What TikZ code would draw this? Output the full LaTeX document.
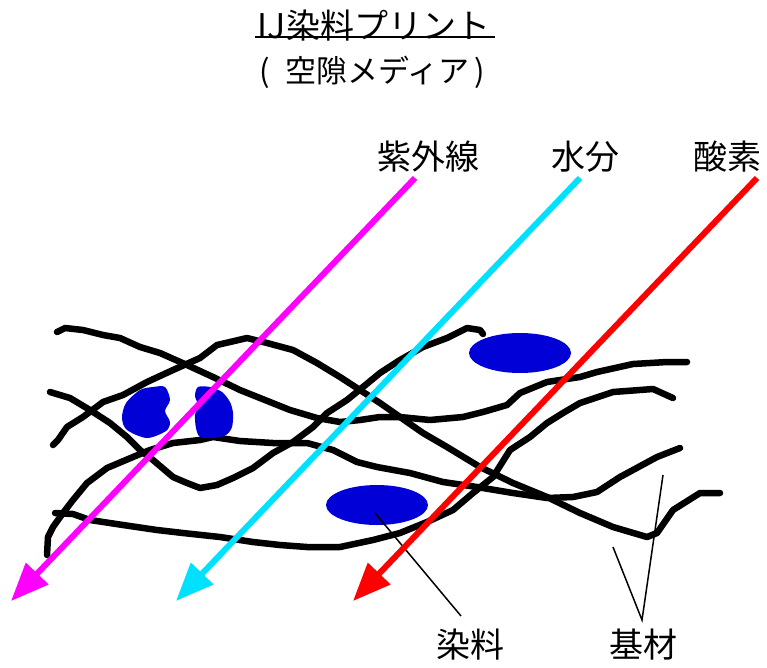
\documentclass[tikz,border=0pt]{standalone}
\usepackage{fontspec}
\setmainfont{Noto Sans CJK JP}
\usetikzlibrary{arrows.meta}
\definecolor{uvpink}{RGB}{255,0,255}
\definecolor{watercyan}{RGB}{0,225,255}
\definecolor{dyeblue}{RGB}{0,0,215}
\tikzset{
  fibre/.style={line width=6.5pt, line join=round, line cap=round},
  ray/.style={line width=6pt, -{Triangle[length=38pt,width=30pt]}},
  lead/.style={line width=1.5pt},
  lbl/.style={font=\fontsize{34}{38}\selectfont, inner sep=0pt},
  ttl/.style={font=\fontsize{34}{40}\selectfont, inner sep=0pt},
}

\begin{document}
\begin{tikzpicture}[x=1pt,y=-1pt]
\useasboundingbox (0,0) rectangle (767,667);

\node[ttl] (head) at (374,26) {IJ染料プリント};
\node[ttl,font=\fontsize{31}{36}\selectfont] (sub) at (372,72) {(\enspace 空隙メディア\,)};
\draw[line width=1.5pt] (255,37) -- (495,37);

\draw[fibre] (57,332) -- (65,328) -- (83,330) -- (103,335) -- (120,338) -- (140,347) -- (160,353) -- (187,365) -- (213,377) -- (240,390) -- (260,398) -- (290,410) -- (317,418) -- (340,422) -- (360,420) -- (380,417) -- (400,417) -- (430,420) -- (463,417) -- (483,412) -- (507,405) -- (520,393) -- (547,382) -- (580,377) -- (597,372) -- (633,364) -- (667,362) -- (687,362);
\draw[fibre] (53,445) -- (58,440) -- (67,427) -- (83,417) -- (103,402) -- (123,395) -- (147,382) -- (173,370) -- (200,358) -- (217,345) -- (230,342) -- (247,338) -- (267,343) -- (293,350) -- (317,363) -- (340,377) -- (360,390) -- (380,403) -- (400,417) -- (423,433) -- (447,447) -- (480,467) -- (513,483) -- (547,497) -- (580,513) -- (613,527) -- (647,537) -- (657,533) -- (673,510) -- (700,493) -- (720,493);
\draw[fibre] (50,392) -- (70,398) -- (90,410) -- (110,423) -- (127,437) -- (140,450) -- (153,460) -- (173,477) -- (187,483) -- (200,488) -- (217,485) -- (233,478) -- (253,468) -- (273,453) -- (293,442) -- (313,427) -- (327,413) -- (347,400) -- (363,387) -- (380,373) -- (400,360) -- (423,347) -- (447,338) -- (467,328) -- (480,330) -- (483,334);
\draw[fibre] (47,555) -- (48,537) -- (53,527) -- (63,513) -- (73,500) -- (87,483) -- (107,468) -- (133,457) -- (150,450) -- (173,443) -- (200,440) -- (213,437) -- (240,441) -- (273,443) -- (307,443) -- (333,450) -- (357,462) -- (377,467) -- (410,473) -- (443,482) -- (477,487) -- (513,493) -- (547,498) -- (573,497) -- (597,492) -- (620,477) -- (657,457) -- (680,448);
\draw[fibre] (55,513) -- (73,514) -- (90,520) -- (123,525) -- (157,530) -- (183,533) -- (220,537) -- (253,542) -- (280,545) -- (307,547) -- (340,547) -- (373,540) -- (400,533) -- (427,522) -- (453,510) -- (473,493) -- (493,477) -- (510,450) -- (530,437) -- (547,423) -- (563,413) -- (580,403) -- (613,392) -- (653,389) -- (673,398);

\fill[dyeblue] plot[smooth cycle, tension=0.5] coordinates {(140,390) (153,387) (165,387) (170,400) (165,411) (170,422) (166,431) (147,438) (127,430) (122,418) (126,403)};
\fill[dyeblue] plot[smooth cycle, tension=0.5] coordinates {(198,387) (210,387) (222,392) (230,402) (233,413) (232,427) (226,435) (213,438) (200,437) (196,428) (195,415) (198,405) (195,396)};
\fill[dyeblue] (520,353) ellipse [x radius=51, y radius=20];
\fill[dyeblue] (377,505) ellipse [x radius=51, y radius=20];

\node[lbl] (dye) at (470,645) {染料};
\node[lbl] (base) at (643,645) {基材};
\coordinate (dyein) at (375,513);
\coordinate (dyetip) at (461,616);
\coordinate (basetip) at (642,620);
\coordinate (basea) at (663,475);
\coordinate (baseb) at (613,547);
\draw[lead] (dyein) -- (dyetip);
\draw[lead] (basea) -- (basetip) -- (baseb);

\node[lbl] (uv) at (428,157) {紫外線};
\node[lbl] (water) at (585,157) {水分};
\node[lbl] (oxygen) at (727,157) {酸素};
\coordinate (uvs) at (415,178);
\coordinate (uve) at (11,601);
\coordinate (waters) at (580,178);
\coordinate (watere) at (176,601);
\coordinate (oxygens) at (757,178);
\coordinate (oxygene) at (353,601);
\draw[ray,uvpink,fill=uvpink] (uvs) -- (uve);
\draw[ray,watercyan,fill=watercyan] (waters) -- (watere);
\draw[ray,red,fill=red] (oxygens) -- (oxygene);
\end{tikzpicture}
\end{document}
